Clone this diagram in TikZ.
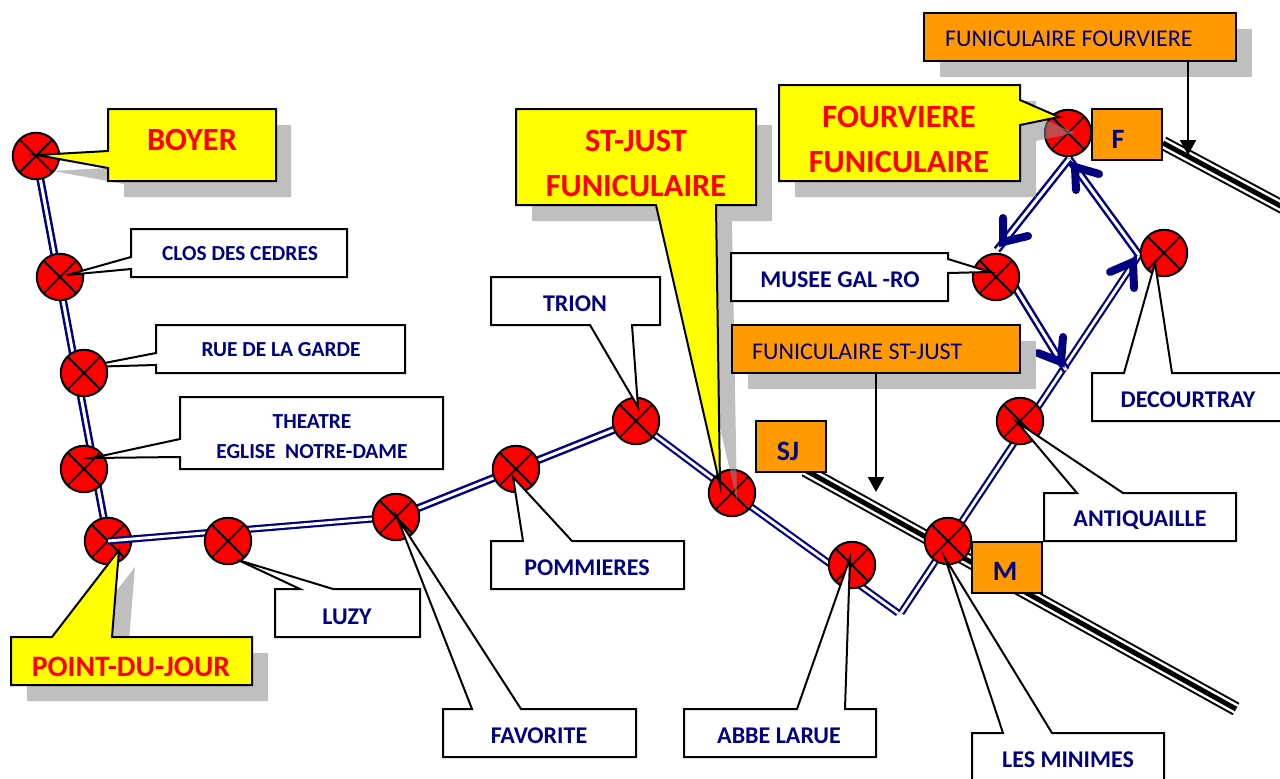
\documentclass[tikz,border=0pt]{standalone}
\usepackage{fontspec}
\setmainfont{Carlito}
\usetikzlibrary{arrows.meta}
\definecolor{navyc}{HTML}{000080}
\definecolor{orangec}{HTML}{FF9900}
\definecolor{shadowc}{HTML}{BFBFBF}
\definecolor{glassc}{HTML}{8B8B8B}
\definecolor{redc}{HTML}{FF0000}
\definecolor{yellowc}{HTML}{FFFF00}
\tikzset{
  station/.style={circle,draw=black,line width=2pt,fill=redc,minimum size=46.5pt,inner sep=0pt,
    path picture={\draw[black,line width=2pt]
      (path picture bounding box.north west)--(path picture bounding box.south east)
      (path picture bounding box.north east)--(path picture bounding box.south west);}},
  rail/.style={draw=navyc,double=white,line width=2.5pt,double distance=3pt},
  railthin/.style={draw=navyc,double=white,line width=2.2pt,double distance=2.8pt},
  barb/.style={draw=navyc,line width=8pt,line cap=round,line join=miter,miter limit=10},
  trackouter/.style={draw=black,line width=14pt},
  trackmid/.style={draw=white,line width=10pt},
  trackinner/.style={draw=black,line width=5pt},
  shadowbox/.style={fill=shadowc,draw=none},
  glass/.style={fill=glassc,fill opacity=.55,draw=none},
  callw/.style={draw=black,line width=2pt,fill=white,line join=miter},
  cally/.style={draw=black,line width=2pt,fill=yellowc,line join=miter},
  orangebox/.style={draw=black,line width=2pt,fill=orangec},
  navylab/.style={text=navyc,font=\fontsize{21.4}{30}\selectfont\bfseries,align=center,inner sep=0pt},
  biglab/.style={text=navyc,font=\fontsize{24}{30}\selectfont\bfseries,align=center,inner sep=0pt},
  redlab/.style={text=redc,font=\fontsize{32.4}{45}\selectfont\bfseries,align=center,inner sep=0pt},
  codelab/.style={text=navyc,font=\fontsize{28}{32}\selectfont\bfseries,inner sep=0pt},
  funilab/.style={text=navyc,font=\fontsize{24}{28}\selectfont,anchor=west,inner sep=0pt},
  pointer/.style={draw=black,line width=2.2pt,-{Triangle[length=15pt,width=16pt]}},
}
\begin{document}
\begin{tikzpicture}[x=1pt,y=-1pt]
\path[use as bounding box,fill=white] (0,0) rectangle (1280,779);
% named points
\coordinate (bend1) at (898,613);
\coordinate (bend2) at (901,613);
\coordinate (tipD) at (1139,255);
\coordinate (tipF) at (1069,159);
\coordinate (tipM) at (997,250);
\coordinate (tipA) at (1066,370);
\coordinate (vD) at (1133,262);
\coordinate (vF) at (1075,167);
\coordinate (vM) at (1003,242);
\coordinate (vA) at (1061,362);
\coordinate (museeS) at (1010,279);
\coordinate (sjS) at (805,470);
\coordinate (sjE) at (1236,709);
\coordinate (fS) at (1163,143);
\coordinate (fE) at (1290,211);
\coordinate (funiSJd) at (876,492);
\coordinate (funiFd) at (1188,155);
\path (36,156) coordinate (boyerc) (60,277) coordinate (closc) (84,373) coordinate (gardec)
      (84,469) coordinate (theatrec) (108,541) coordinate (pdjc) (396,517) coordinate (favc);
% shadows under everything
\fill[shadowbox] (124,125)--(291,125)--(291,197)--(124,197)--(124,184)--(53,171)--(124,167)--cycle;
\fill[shadowbox] (27,653)--(68,653)--(135,567)--(128,653)--(268,653)--(268,701)--(27,701)--cycle;
% rails
\draw[rail] (boyerc)--(pdjc);
% tracks
\foreach \s/\e in {sjS/sjE,fS/fE}{
  \draw[trackouter] (\s)--(\e);
  \draw[trackmid] (\s)--(\e);
  \draw[trackinner] (\s)--(\e);
}
% garde callout passes under its station
\draw[callw] (156,325)--(405,325)--(405,373)--(156,373)--(156,365)--(84,367)--(156,353)--cycle;
\node[navylab] (gardel) at (281,350) {RUE DE LA GARDE};
% stations, part 1
\node[station] (boyer) at (boyerc) {};
\node[station] (clos) at (closc) {};
\node[station] (garde) at (gardec) {};
\node[station] (theatre) at (theatrec) {};
\node[station] (pdj) at (pdjc) {};
\draw[railthin] (pdj.center)--(favc);
\path (516,469) coordinate (pomc) (636,421) coordinate (trionc) (732,493) coordinate (stjustc);
\draw[rail] (favc)--(pomc);
\draw[rail] (pomc)--(trionc);
\draw[railthin] (trionc)--(stjustc);
\draw[railthin] (stjustc)--(bend1);
\draw[railthin] (bend2)--(tipD);
\draw[rail] (tipD)--(tipF);
\draw[rail] (tipF)--(tipM);
\draw[rail] (museeS)--(tipA);
% stations, part 2
\node[station] (luzy) at (228,541) {};
\node[station] (favorite) at (favc) {};
\node[station] (pommieres) at (pomc) {};
\node[station] (trion) at (trionc) {};
\node[station] (stjust) at (stjustc) {};
\node[station] (abbe) at (852,565) {};
\node[station] (minimes) at (948,541) {};
\node[station] (antiquaille) at (1020,421) {};
\node[station] (decourtray) at (1164,253) {};
\node[station] (musee) at (996,277) {};
\node[station] (fourviere) at (1068,133) {};
% translucent shadows laid over stations
\fill[glass] (532,125)--(772,125)--(772,221)--(732,221)--(737,501)--(672,221)--(532,221)--cycle;
\fill[glass] (795,101)--(1036,101)--(1036,116)--(1075,133)--(1036,141)--(1036,197)--(795,197)--cycle;
% arrow chevrons
\draw[barb] (1076,190)--(vF)--(1099,174);
\draw[barb] (1003,218)--(vM)--(1028,236);
\draw[barb] (1110,272)--(vD)--(1134,288);
\draw[barb] (1038,353)--(vA)--(1063,337);
% white callouts
\draw[callw] (131,229)--(347,229)--(347,277)--(131,277)--(131,269)--(67,275)--(131,257)--cycle;
\node[navylab] (closl) at (240,254) {CLOS DES CEDRES};
\draw[callw] (180,397)--(443,397)--(443,469)--(180,469)--(180,457)--(92,458)--(180,439)--cycle;
\node[navylab] (theatrel) at (312,437) {THEATRE\\EGLISE\ \ NOTRE-DAME};
\draw[callw] (275,589)--(300,589)--(238,560)--(333,589)--(420,589)--(420,637)--(275,637)--cycle;
\node[biglab] (luzyl) at (347,617) {LUZY};
\draw[callw] (443,709)--(472,709)--(397,517)--(521,709)--(636,709)--(636,757)--(443,757)--cycle;
\node[biglab] (favl) at (539,736) {FAVORITE};
\draw[callw] (491,541)--(523,541)--(513,477)--(572,541)--(684,541)--(684,589)--(491,589)--cycle;
\node[biglab] (poml) at (587,568) {POMMIERES};
\draw[callw] (491,277)--(660,277)--(660,325)--(632,325)--(638,407)--(590,325)--(491,325)--cycle;
\node[biglab] (trionl) at (575,304) {TRION};
\draw[callw] (684,709)--(797,709)--(850,558)--(845,709)--(876,709)--(876,757)--(684,757)--cycle;
\node[biglab] (abbel) at (779,736) {ABBE LARUE};
\draw[callw] (972,733)--(1003,733)--(945,558)--(1052,733)--(1164,733)--(1164,790)--(972,790)--cycle;
\node[biglab] (minl) at (1068,760) {LES MINIMES};
\draw[callw] (1044,493)--(1077,493)--(1017,422)--(1123,493)--(1236,493)--(1236,541)--(1044,541)--cycle;
\node[biglab] (antl) at (1140,520) {ANTIQUAILLE};
\draw[callw] (1092,373)--(1124,373)--(1155,263)--(1172,373)--(1290,373)--(1290,421)--(1092,421)--cycle;
\node[biglab] (decl) at (1188,400) {DECOURTRAY};
\draw[callw] (731,253)--(948,253)--(948,259)--(990,272)--(948,273)--(948,301)--(731,301)--cycle;
\node[biglab] (musl) at (840,280) {MUSEE GAL -RO};
% funiculars
\fill[shadowbox] (748,341) rectangle (1036,389);
\draw[orangebox] (732,325) rectangle (1020,373);
\node[funilab] (fsj) at (752,352) {FUNICULAIRE ST-JUST};
\draw[pointer] (876,373)--(funiSJd);
\fill[shadowbox] (940,29) rectangle (1252,77);
\draw[orangebox] (924,13) rectangle (1236,61);
\node[funilab] (ffo) at (945,39) {FUNICULAIRE FOURVIERE};
\draw[pointer] (1188,61)--(funiFd);
% code boxes
\draw[orangebox] (1092,109) rectangle (1162,160);
\node[codelab] (fcode) at (1118,139) {F};
\draw[orangebox] (756,421) rectangle (826,472);
\node[codelab] (sjcode) at (788,451) {SJ};
\draw[orangebox] (972,542) rectangle (1042,593);
\node[codelab] (mcode) at (1005,571) {M};
% yellow callouts
\draw[cally] (108,109)--(276,109)--(276,181)--(108,181)--(108,168)--(37,155)--(108,151)--cycle;
\node[redlab] (boyerl) at (192,140) {BOYER};
\draw[cally] (11,637)--(52,637)--(119,550)--(112,637)--(252,637)--(252,685)--(11,685)--cycle;
\node[redlab,font=\fontsize{29.7}{30}\selectfont\bfseries] (pdjl) at (131,667) {POINT-DU-JOUR};
\draw[cally] (516,109)--(756,109)--(756,205)--(716,205)--(720,485)--(656,205)--(516,205)--cycle;
\node[redlab] (sjl) at (636,163) {ST-JUST\\FUNICULAIRE};
\draw[cally] (779,85)--(1020,85)--(1020,100)--(1059,117)--(1020,125)--(1020,181)--(779,181)--cycle;
\node[redlab] (fol) at (899,139) {FOURVIERE\\FUNICULAIRE};
\end{tikzpicture}
\end{document}
